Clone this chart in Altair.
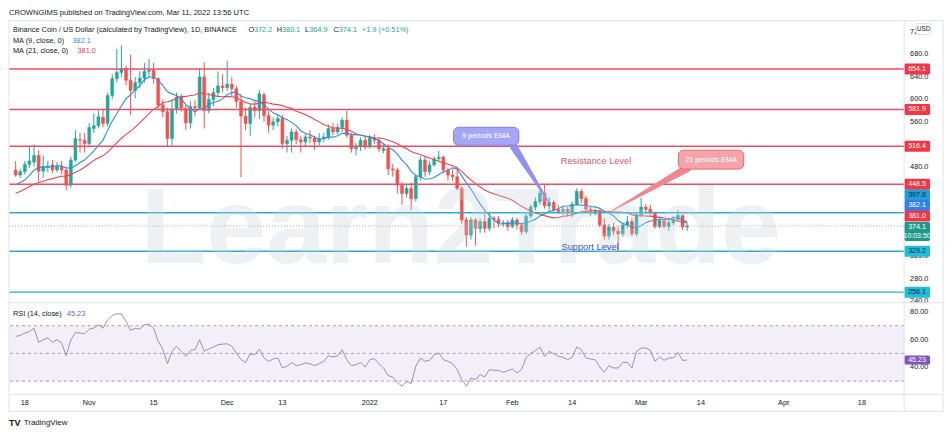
import altair as alt
import pandas as pd

# ---------------- text ----------------
HEADER = "CROWNGIMS published on TradingView.com, Mar 11, 2022 13:56 UTC"
SYMBOL = "Binance Coin / US Dollar (calculated by TradingView), 1D, BINANCE"
OHLC_KEYS = ["O", "H", "L", "C"]
OHLC_VALUES = ["372.2", "380.1", "364.9", "374.1"]
CHANGE = "+1.9 (+0.51%)"
MA_NAMES = ["MA (9, close, 0)", "MA (21, close, 0)"]
MA_LAST = ["382.1", "381.0"]
RSI_NAME = "RSI (14, close)"
RSI_LAST = "45.23"
WATERMARK = "Learn2Trade"
CALLOUT_TEXT = ["9 periods EMA", "21 periods EMA"]
RES_TEXT = "Resistance Level"
SUP_TEXT = "Support Level"
COUNTDOWN = "10:03:50"

# ---------------- daily candles, Oct 16 2021 (i=0) .. Mar 11 2022 (i=146) ----------------
OPEN = [474, 465, 471, 484, 488, 500, 472, 478, 483, 474,
        480, 474, 447, 492, 528, 527, 521, 548, 553, 568,
        557, 607, 637, 648, 655, 634, 616, 630, 638, 650,
        652, 637, 590, 578, 530, 583, 604, 584, 558, 587,
        585, 640, 580, 600, 612, 624, 621, 627, 619, 596,
        570, 557, 586, 580, 608, 571, 554, 560, 566, 521,
        527, 542, 528, 524, 533, 531, 524, 530, 533, 548,
        542, 550, 563, 536, 512, 516, 527, 515, 531, 527,
        509, 512, 476, 474, 447, 432, 441, 423, 462, 492,
        471, 483, 494, 497, 474, 465, 462, 441, 385, 358,
        385, 370, 382, 370, 388, 386, 379, 380, 373, 385,
        376, 364, 392, 408, 418, 433, 410, 416, 403, 400,
        404, 397, 413, 436, 423, 404, 397, 400, 376, 356,
        372, 365, 360, 376, 382, 360, 394, 408, 404, 398,
        373, 384, 373, 380, 386, 393, 372.2]
HIGH = [490, 476, 490, 515, 520, 510, 500, 490, 492, 488,
        490, 480, 498, 545, 540, 540, 558, 575, 580, 582,
        612, 645, 690, 696, 660, 680, 640, 650, 665, 672,
        665, 640, 600, 585, 598, 612, 610, 590, 596, 598,
        655, 666, 612, 620, 650, 645, 669, 640, 625, 610,
        585, 592, 598, 617, 612, 580, 568, 572, 572, 535,
        548, 547, 535, 538, 545, 535, 540, 540, 555, 558,
        556, 568, 580, 540, 522, 532, 535, 536, 538, 532,
        520, 520, 485, 478, 452, 448, 452, 466, 498, 500,
        490, 498, 508, 500, 478, 475, 480, 445, 390, 390,
        388, 388, 398, 398, 392, 392, 385, 385, 390, 389,
        380, 396, 412, 425, 440, 447, 425, 420, 412, 410,
        408, 418, 441, 440, 428, 410, 405, 403, 388, 378,
        380, 373, 380, 392, 388, 397, 424, 413, 412, 400,
        386, 387, 388, 392, 403, 395, 380.1]
LOW = [462, 460, 466, 478, 480, 453, 460, 470, 468, 470,
       466, 438, 442, 488, 505, 505, 515, 540, 548, 550,
       552, 600, 630, 640, 625, 572, 602, 620, 630, 640,
       628, 582, 568, 515, 518, 575, 578, 545, 548, 570,
       582, 548, 575, 588, 605, 612, 615, 605, 585, 461,
       545, 535, 568, 565, 560, 540, 545, 552, 512, 505,
       505, 520, 505, 515, 522, 510, 518, 524, 528, 536,
       538, 542, 532, 505, 500, 508, 510, 512, 520, 506,
       504, 465, 462, 432, 412, 425, 402, 418, 455, 462,
       465, 480, 488, 468, 455, 455, 438, 378, 337, 350,
       340, 362, 362, 365, 370, 372, 372, 365, 370, 368,
       358, 360, 388, 402, 412, 405, 402, 398, 396, 394,
       392, 390, 410, 415, 398, 392, 393, 372, 350, 350,
       358, 330, 355, 370, 356, 356, 390, 396, 394, 369,
       370, 370, 366, 376, 382, 367, 364.9]
CLOSE = [465, 471, 484, 490, 500, 472, 480, 481, 474, 480,
         474, 447, 492, 530, 527, 521, 550, 553, 569, 557,
         607, 637, 648, 655, 634, 616, 630, 638, 650, 652,
         637, 590, 578, 530, 583, 604, 584, 558, 587, 585,
         640, 580, 600, 612, 624, 621, 627, 619, 596, 570,
         557, 586, 580, 610, 571, 554, 560, 566, 521, 527,
         542, 528, 524, 533, 531, 524, 530, 533, 548, 542,
         550, 563, 536, 512, 516, 527, 515, 531, 527, 512,
         512, 476, 474, 447, 432, 441, 423, 462, 492, 471,
         483, 494, 497, 474, 465, 462, 441, 385, 358, 385,
         370, 382, 370, 388, 386, 379, 380, 373, 385, 376,
         364, 392, 408, 418, 433, 410, 416, 403, 400, 404,
         397, 413, 436, 423, 404, 397, 400, 376, 356, 372,
         365, 360, 376, 382, 360, 394, 408, 404, 398, 373,
         384, 373, 380, 386, 393, 372.2, 374.1]
# closes of the 20 days before the first candle (only feed the moving averages)
WARMUP_CLOSE = [400, 398, 405, 402, 415, 428, 425, 430, 427, 438,
                442, 440, 437, 445, 414, 418, 428, 470, 482, 472]
RSI = [62.3, 63.0, 64.7, 65.8, 68.2, 58.0, 59.9, 61.1, 58.0, 60.0,
       57.5, 48.3, 59.8, 65.1, 64.7, 64.2, 67.5, 68.3, 70.7, 68.3,
       74.2, 77.4, 78.6, 78.6, 73.0, 66.6, 68.2, 67.5, 70.7, 71.1,
       68.2, 58.7, 53.1, 42.6, 51.5, 55.1, 51.5, 47.9, 52.2, 52.7,
       59.9, 51.5, 53.2, 54.6, 56.3, 56.7, 57.0, 55.1, 50.3, 45.5,
       43.5, 49.5, 49.1, 53.1, 46.7, 44.3, 46.0, 46.7, 39.5, 40.7,
       43.5, 41.2, 41.9, 43.1, 42.6, 41.2, 42.6, 44.3, 48.3, 47.4,
       48.3, 52.7, 45.5, 41.2, 41.9, 43.5, 40.2, 45.5, 46.2, 42.6,
       39.5, 34.0, 33.0, 29.2, 26.3, 29.9, 28.2, 40.7, 46.7, 44.3,
       45.0, 49.1, 50.3, 45.5, 44.3, 42.6, 38.3, 31.1, 26.3, 32.3,
       31.1, 34.7, 33.0, 38.3, 37.8, 37.8, 36.4, 37.5, 38.8, 35.9,
       38.3, 47.0, 50.0, 52.0, 54.6, 47.9, 51.5, 49.8, 47.9, 47.2,
       45.5, 47.2, 54.6, 52.7, 46.7, 46.0, 45.5, 40.2, 36.4, 41.2,
       39.5, 39.5, 43.5, 43.5, 39.5, 51.5, 53.9, 53.9, 52.2, 44.3,
       47.4, 45.0, 46.7, 46.7, 50.7, 45.0, 45.23]

# ---------------- axes ----------------
TICK_DAYS = [2, 16, 30, 46, 58, 77, 93, 108, 121, 136, 149, 167, 184]
TICK_LABELS = ["18", "Nov", "15", "Dec", "13", "2022", "17", "Feb", "14", "Mar", "14", "Apr", "18"]
# price-scale labels that are not hidden behind the coloured tags
PRICE_TICKS = [240, 280, 320, 480, 560, 600, 640, 680, 720]
RSI_TICKS = [40, 60, 80]
RSI_LEVELS = [70, 50, 30]

# ---------------- drawings ----------------
RES_LEVELS = [654.1, 581.9, 516.4, 448.5]
SUP_LEVELS = [397.8, 329.2, 256.1]
LAST_PRICE = 374.1
CALLOUT_I = [[95.2, 109.4], [144.1, 158.3]]
CALLOUT_P = [[518.2, 550.2], [475.6, 509.3]]
POINTER_I = [[108.0, 116.0], [146.0, 129.8]]
POINTER_P = [[519.5, 415.1], [477.0, 402.0]]
RES_AT = [126.2, 489.8]
SUP_AT = [124.9, 336.5]

# price tags on the right scale (label, where it sits, box height)
TAG_LABELS = ["654.1", "581.9", "516.4", "448.5", "397.8", "382.1", "381.0", "374.1", "329.2", "256.1"]
TAG_AT = [654.1, 581.9, 516.4, 448.5, 429.3, 410.7, 392.0, 364.4, 329.2, 256.1]
TAG_TEXT_AT = [654.1, 581.9, 516.4, 448.5, 429.3, 410.7, 392.0, 371.6, 329.2, 256.1]
TAG_H = [11, 11, 11, 11, 11, 11, 11, 19, 11, 11]
TAG_FILL = ["#f23645", "#f23645", "#f23645", "#f23645", "#1f9ed8", "#2f80ee", "#f23645", "#21998a", "#22bdd8", "#22bdd8"]
TAG_INK = ["#ffffff", "#ffffff", "#ffffff", "#ffffff", "#0d2a45", "#ffffff", "#ffffff", "#ffffff", "#0d2a45", "#0d2a45"]
COUNTDOWN_AT = 356.6

# ---------------- style ----------------
FONT = "Liberation Sans"
INK = "#131722"
GREEN = "#26a69a"
RED = "#ef5350"
MA9_COLOR = "#2a8ee0"
MA21_COLOR = "#e8464f"
RES_COLOR = "#ec4e63"
SUP_COLOR = "#2ab0cc"
FRAME = "#e0e3eb"
W, H = 898, 375
XDOM = [-0.36, 192.1]
PDOM = [73.7, 740.4]
RDOM = [20.4, 290.2]
PK = H / (PDOM[1] - PDOM[0])
RK = H / (RDOM[1] - RDOM[0])

xs = alt.Scale(domain=XDOM, nice=False, zero=False)
ps = alt.Scale(domain=PDOM, nice=False, zero=False)
rs = alt.Scale(domain=RDOM, nice=False, zero=False)


def xq(f):
    return alt.X(f"{f}:Q", scale=xs, axis=None)


def pq(f):
    return alt.Y(f"{f}:Q", scale=ps, axis=None)


def rq(f):
    return alt.Y(f"{f}:Q", scale=rs, axis=None)


one = pd.DataFrame({"k": [0]})


def txt(t, x, y, color=INK, size=7.4, align="left", weight="normal"):
    return alt.Chart(pd.DataFrame({"t": [t]})).mark_text(
        align=align, baseline="middle", font=FONT, fontSize=size, color=color, fontWeight=weight
    ).encode(x=alt.value(x), y=alt.value(y), text="t:N")


def hline(y, x1=0, x2=937):
    return alt.Chart(one).mark_rule(color=FRAME, strokeWidth=1).encode(
        x=alt.value(x1), x2=alt.value(x2), y=alt.value(y))


def vline(x, y1=0, y2=392):
    return alt.Chart(one).mark_rule(color=FRAME, strokeWidth=1).encode(
        x=alt.value(x), y=alt.value(y1), y2=alt.value(y2))


n = len(CLOSE)
candles = pd.DataFrame({"i": list(range(n)), "open": OPEN, "high": HIGH, "low": LOW, "close": CLOSE})
updown = alt.condition("datum.close >= datum.open", alt.value(GREEN), alt.value(RED))

# time-axis labels (drawn as text through the x scale)
time_labels = alt.Chart(pd.DataFrame({"d": TICK_DAYS, "lab": TICK_LABELS})).mark_text(
    font=FONT, fontSize=7.3, color=INK, baseline="middle", align="center").encode(
    x=xq("d"), y=alt.value(384), text="lab:N")
# price-axis labels (through the price scale)
price_labels = alt.Chart(pd.DataFrame({"v": PRICE_TICKS, "lab": [f"{v:.1f}" for v in PRICE_TICKS]})).mark_text(
    font=FONT, fontSize=7.3, color=INK, baseline="middle", align="left").encode(
    x=alt.value(904), y=pq("v"), text="lab:N")

wicks = alt.Chart(candles).mark_rule(strokeWidth=1).encode(
    x=xq("i"), y=pq("low"), y2="high:Q", color=updown)
bodies = alt.Chart(candles).mark_bar(width=3, strokeWidth=0.5).encode(
    x=xq("i"), y=pq("open"), y2="close:Q", color=updown, stroke=updown)

ma_df = pd.DataFrame({"i": list(range(-len(WARMUP_CLOSE), n)), "close": WARMUP_CLOSE + CLOSE})
ma_base = alt.Chart(ma_df).transform_window(
    ma9="mean(close)", frame=[-8, 0], sort=[alt.SortField("i")]
).transform_window(
    ma21="mean(close)", frame=[-20, 0], sort=[alt.SortField("i")]
).transform_filter("datum.i >= 0")
ma21 = ma_base.mark_line(color=MA21_COLOR, strokeWidth=1.1).encode(x=xq("i"), y=pq("ma21"))
ma9 = ma_base.mark_line(color=MA9_COLOR, strokeWidth=1.1).encode(x=xq("i"), y=pq("ma9"))

levels = pd.DataFrame({"p": RES_LEVELS + SUP_LEVELS,
                       "c": [RES_COLOR] * len(RES_LEVELS) + [SUP_COLOR] * len(SUP_LEVELS)})
level_rules = alt.Chart(levels).mark_rule(strokeWidth=1.4).encode(
    y=pq("p"), color=alt.Color("c:N", scale=None))
last_rule = alt.Chart(pd.DataFrame({"p": [LAST_PRICE]})).mark_rule(
    color="#9ea2ad", strokeDash=[1, 2], strokeWidth=1).encode(y=pq("p"))

watermark = alt.Chart(pd.DataFrame({"t": [WATERMARK]})).mark_text(
    align="left", baseline="alphabetic", font=FONT, fontSize=108, fontWeight="bold",
    color="#c4d2de", opacity=0.3).encode(x=alt.value(132), y=alt.value(243), text="t:N")

callout_layers = []
box_fill = ["#a6a7f4", "#f4a5ab"]
box_stroke = ["#7e80ea", "#e8636e"]
ptr_color = ["#9192ef", "#ee8790"]
for k in range(2):
    ptr = pd.DataFrame({"i": POINTER_I[k], "p": POINTER_P[k], "w": [8, 1]})
    callout_layers.append(
        alt.Chart(ptr).mark_trail(color=ptr_color[k]).encode(
            x=xq("i"), y=pq("p"), size=alt.Size("w:Q", scale=None, legend=None)))
    box = pd.DataFrame({"i1": [CALLOUT_I[k][0]], "i2": [CALLOUT_I[k][1]],
                        "p1": [CALLOUT_P[k][0]], "p2": [CALLOUT_P[k][1]]})
    callout_layers.append(
        alt.Chart(box).mark_rect(fill=box_fill[k], stroke=box_stroke[k], strokeWidth=1,
                                 cornerRadius=5).encode(
            x=xq("i1"), x2="i2:Q", y=pq("p1"), y2="p2:Q"))
    lab = pd.DataFrame({"i": [sum(CALLOUT_I[k]) / 2], "p": [sum(CALLOUT_P[k]) / 2],
                        "t": [CALLOUT_TEXT[k]]})
    callout_layers.append(
        alt.Chart(lab).mark_text(font=FONT, fontSize=7.3, color="#ffffff", baseline="middle").encode(
            x=xq("i"), y=pq("p"), text="t:N"))

res_label = alt.Chart(pd.DataFrame({"i": [RES_AT[0]], "p": [RES_AT[1]], "t": [RES_TEXT]})).mark_text(
    font=FONT, fontSize=9.3, color="#e2566a", baseline="middle").encode(x=xq("i"), y=pq("p"), text="t:N")
sup_label = alt.Chart(pd.DataFrame({"i": [SUP_AT[0]], "p": [SUP_AT[1]], "t": [SUP_TEXT]})).mark_text(
    font=FONT, fontSize=9.3, color="#3b50d6", baseline="middle").encode(x=xq("i"), y=pq("p"), text="t:N")

tags = pd.DataFrame({"label": TAG_LABELS, "at": TAG_AT, "tat": TAG_TEXT_AT, "h": TAG_H,
                     "bg": TAG_FILL, "fg": TAG_INK})
tag_boxes = alt.Chart(tags).transform_calculate(
    top=f"datum.at + datum.h / 2 / {PK}", bot=f"datum.at - datum.h / 2 / {PK}"
).mark_rect(cornerRadius=1.5).encode(
    x=alt.value(898), x2=alt.value(924), y=pq("top"), y2="bot:Q",
    color=alt.Color("bg:N", scale=None))
tag_text = alt.Chart(tags).mark_text(font=FONT, fontSize=7.2, baseline="middle").encode(
    x=alt.value(911), y=pq("tat"), text="label:N", color=alt.Color("fg:N", scale=None))
countdown = alt.Chart(pd.DataFrame({"p": [COUNTDOWN_AT], "t": [COUNTDOWN]})).mark_text(
    font=FONT, fontSize=7.0, color="#ffffff", baseline="middle").encode(
    x=alt.value(911), y=pq("p"), text="t:N")

price_group = alt.layer(
    price_labels, time_labels, wicks, bodies, ma21, ma9, level_rules, last_rule, watermark,
    *callout_layers, res_label, sup_label, tag_boxes, tag_text, countdown,
)

# ---------------- RSI pane ----------------
rsi_df = pd.DataFrame({"i": list(range(n)), "rsi": RSI})
rsi_band = alt.Chart(pd.DataFrame({"a": [RSI_LEVELS[0]], "b": [RSI_LEVELS[-1]]})).mark_rect(
    color="#f2eff9").encode(x=alt.value(0), x2=alt.value(W), y=rq("a"), y2="b:Q")
rsi_dashes = alt.Chart(pd.DataFrame({"v": RSI_LEVELS})).mark_rule(
    color="#8d909b", strokeDash=[3, 3], strokeWidth=0.8).encode(y=rq("v"))
rsi_line = alt.Chart(rsi_df).mark_line(color="#9891b2", strokeWidth=1).encode(x=xq("i"), y=rq("rsi"))
rsi_labels = alt.Chart(pd.DataFrame({"v": RSI_TICKS, "lab": [f"{v:.2f}" for v in RSI_TICKS]})).mark_text(
    align="left", baseline="middle", font=FONT, fontSize=7.3, color=INK).encode(
    x=alt.value(904), y=rq("v"), text="lab:N")
rsi_tag_df = pd.DataFrame({"v": [RSI[-1]], "lab": [RSI_LAST]})
rsi_tag = alt.Chart(rsi_tag_df).transform_calculate(
    top=f"datum.v + 4.5 / {RK}", bot=f"datum.v - 4.5 / {RK}"
).mark_rect(color="#7e57c2", cornerRadius=1.5).encode(
    x=alt.value(898), x2=alt.value(924), y=rq("top"), y2="bot:Q")
rsi_tag_text = alt.Chart(rsi_tag_df).mark_text(
    font=FONT, fontSize=7.2, color="#ffffff", baseline="middle").encode(
    x=alt.value(911), y=rq("v"), text="lab:N")

rsi_group = alt.layer(rsi_band, rsi_dashes, rsi_line, rsi_labels, rsi_tag, rsi_tag_text)

# ---------------- frame, legends, header ----------------
usd_box = alt.Chart(one).mark_rect(fill="#ffffff", stroke="#d1d4dc", strokeWidth=0.8,
                                   cornerRadius=2).encode(
    x=alt.value(910), x2=alt.value(925), y=alt.value(3), y2=alt.value(14))

deco = [
    hline(0), hline(283), hline(375), hline(392),
    vline(0), vline(898), vline(937),
    usd_box,
    txt("USD", 917.5, 8.5, size=6.3, align="center"),
    txt(HEADER, 0, -8, size=7.6),
    txt(SYMBOL, 4, 9),
    txt(MA_NAMES[0], 4, 20), txt(MA_LAST[0], 63.7, 20, color=MA9_COLOR),
    txt(MA_NAMES[1], 4, 30.7), txt(MA_LAST[1], 68.7, 30.7, color=MA21_COLOR),
    txt(RSI_NAME, 4, 294), txt(RSI_LAST, 58, 294, color="#7e57c2"),
    txt(CHANGE, 354, 9, color=GREEN),
    txt("TV", 0, 404, size=9, weight="bold"),
    txt("TradingView", 14.7, 404, size=8),
]
for key, val, x0, dx in zip(OHLC_KEYS, OHLC_VALUES, [240.3, 268.7, 297.0, 325.5], [5.4, 5.2, 4.1, 5.2]):
    deco.append(txt(key, x0, 9))
    deco.append(txt(val, x0 + dx, 9, color=GREEN))

chart = alt.layer(price_group, rsi_group, *deco).resolve_scale(y="independent").properties(
    width=W, height=H, padding=0, background="#ffffff"
).configure_view(stroke=None)

chart.save("out.html", embed_options={"renderer": "svg", "actions": False})
